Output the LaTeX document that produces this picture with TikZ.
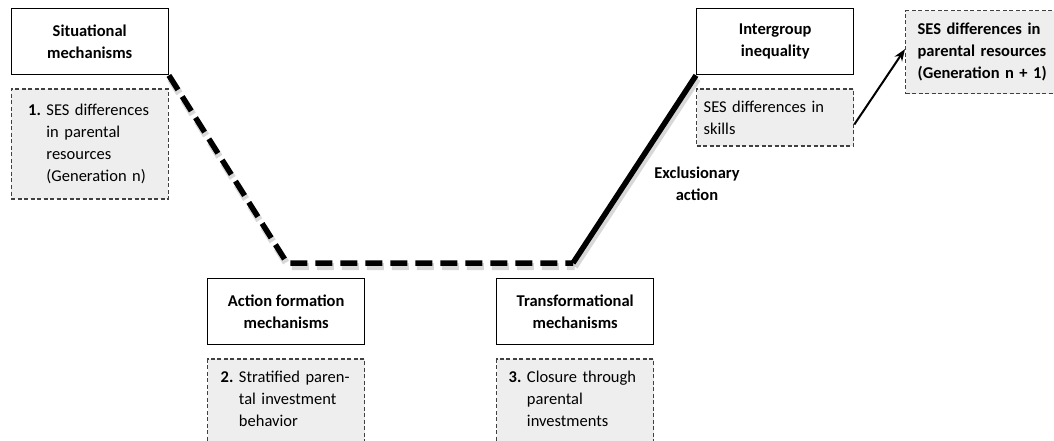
\documentclass[tikz,border=0pt]{standalone}
\usepackage{fontspec}
\setmainfont{Carlito}
\usepackage{tikz}
\usetikzlibrary{positioning,arrows.meta}
\definecolor{notefill}{RGB}{238,238,238}
\definecolor{noteline}{RGB}{64,64,64}
\newcommand{\mechfont}{\fontsize{16.5}{22}\selectfont}
\newcommand{\numitem}[2]{\textbf{#1}~\begin{tabular}[t]{@{}l@{}}#2\end{tabular}}
\tikzset{
  mech box/.style={draw=black,line width=1.4pt,minimum width=157pt,minimum height=66pt,
    inner sep=0pt,align=center,font=\mechfont\bfseries},
  mech note/.style={draw=noteline,fill=notefill,line width=1.2pt,dash pattern=on 4pt off 2.5pt,
    minimum width=157pt,inner ysep=0pt},
  mech path/.style={line width=5.5pt,black},
  mech shadow/.style={line width=7pt,gray!60,opacity=0.5,transform canvas={xshift=1.5pt,yshift=-3.5pt}},
  mech arrow/.style={-{Stealth[length=12pt,width=9pt]},line width=2pt,black}
}

\begin{document}
\begin{tikzpicture}[x=1pt,y=-1pt,font=\mechfont]
  \useasboundingbox (0,0) rectangle (1054,441);

  % Mechanism headings
  \node[mech box,anchor=north west] (sit) at (10.5,8) {Situational\\mechanisms};
  \node[mech box,anchor=north west] (act) at (207,278) {Action formation\\mechanisms};
  \node[mech box,anchor=north west] (trans) at (496,278) {Transformational\\mechanisms};
  \node[mech box,anchor=north west] (inter) at (696,8) {Intergroup\\inequality};

  % Notes under the headings
  \node[mech note,below=13pt of sit,minimum height=110pt,inner xsep=17pt,
    text width=123pt,align=left] (note1)
    {\numitem{1.}{SES differences\\in parental\\resources\\(Generation n)}};
  \node[mech note,below=13pt of act,minimum height=83pt,inner xsep=13pt,
    text width=131pt,align=left] (note2)
    {\numitem{2.}{Stratified paren-\\tal investment\\behavior}};
  \node[mech note,below=13pt of trans,minimum height=83pt,inner xsep=12pt,
    text width=133pt,align=left] (note3)
    {\numitem{3.}{Closure through\\parental\\investments}};
  \node[mech note,below=13pt of inter,minimum height=57pt,inner xsep=7pt,
    text width=143pt,align=left] (skills)
    {SES differences in\\skills};
  \node[mech note,anchor=north west,minimum width=153pt,minimum height=83pt,inner xsep=12pt,
    text width=141pt,align=left,font=\mechfont\bfseries] (gen) at (905,10)
    {SES differences in\\parental resources\\(Generation n + 1)};

  \node[font=\mechfont\bfseries,align=center] (excl) at (697,184) {Exclusionary\\action};

  % Bends of the macro-micro-macro path
  \coordinate (bendl) at (287,263);
  \coordinate (bendr) at (573,263);

  \draw[mech shadow,dash pattern=on 17pt off 8pt] (sit.south east) -- (bendl) -- (bendr);
  \draw[mech shadow] (bendr) -- (inter.south west);
  \draw[mech path,dash pattern=on 17pt off 8pt] (sit.south east) -- (bendl) -- (bendr);
  \draw[mech path] (bendr) -- (inter.south west);

  \draw[mech arrow] ([yshift=-7pt]skills.east) -- ([yshift=3pt]gen.west);
\end{tikzpicture}
\end{document}
